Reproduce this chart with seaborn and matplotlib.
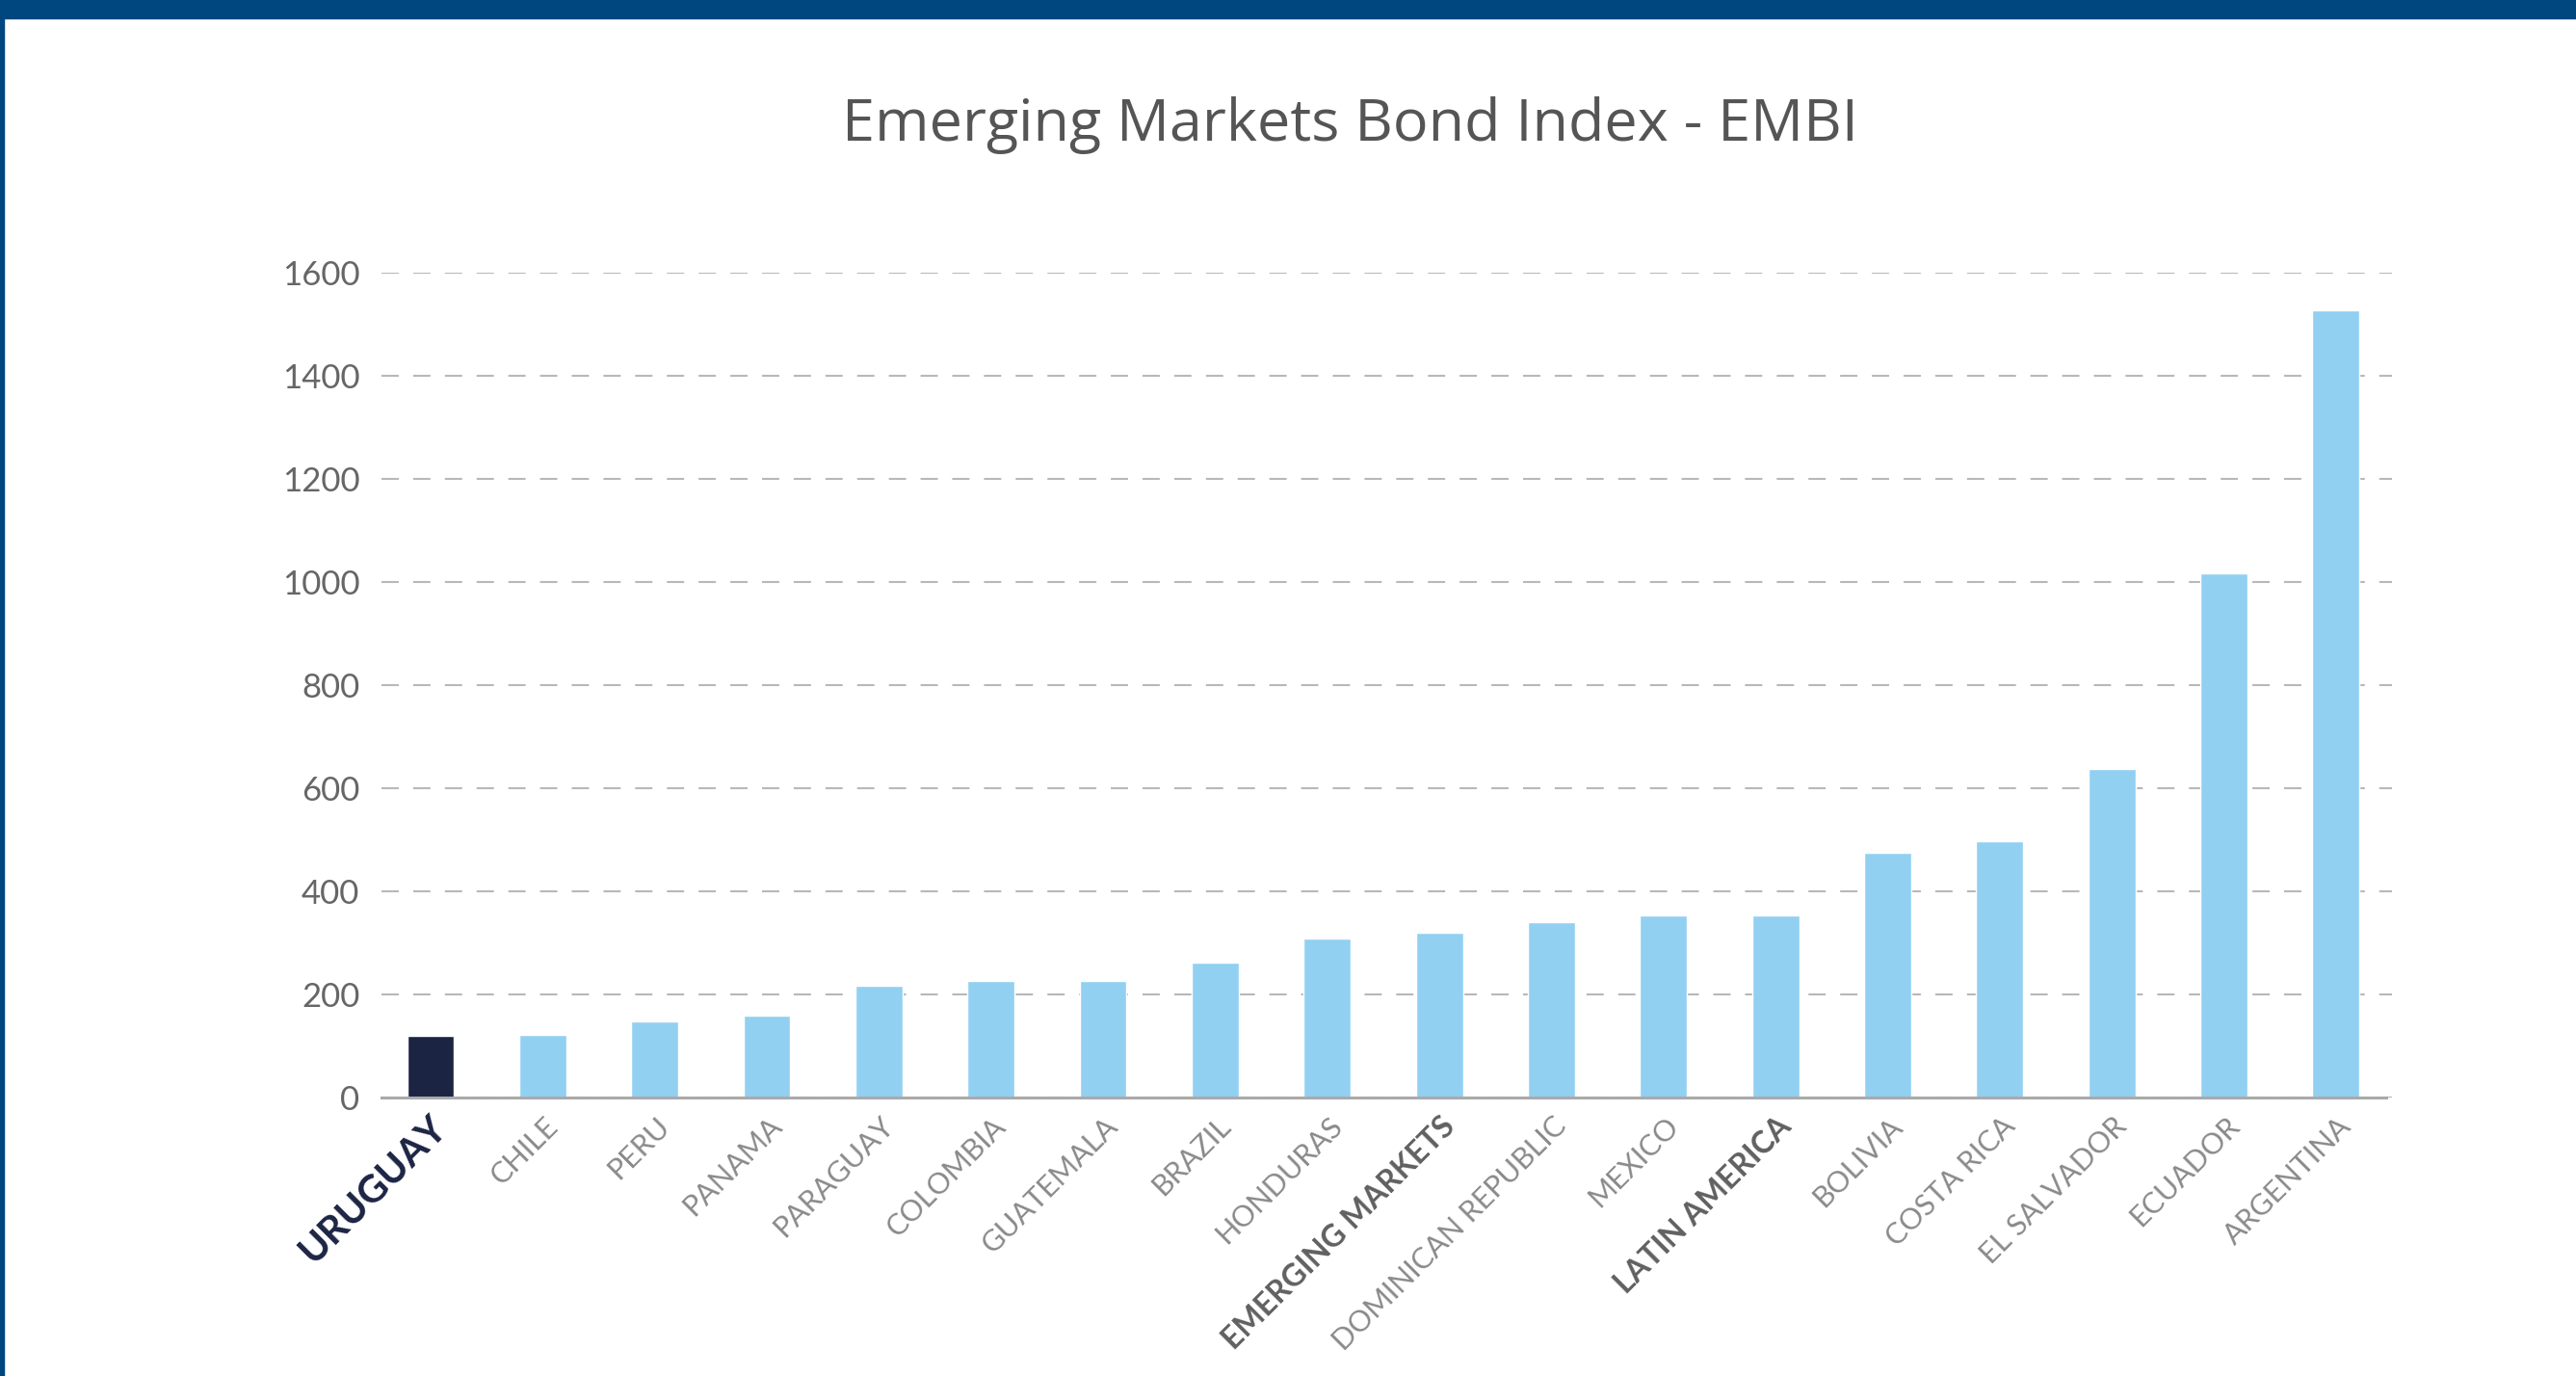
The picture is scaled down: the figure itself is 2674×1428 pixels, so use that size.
import numpy as np
import pandas as pd
import matplotlib
matplotlib.use("Agg")
import matplotlib.pyplot as plt
import seaborn as sns
from matplotlib.patches import Rectangle
from matplotlib.transforms import ScaledTranslation

# data
countries = ["URUGUAY", "CHILE", "PERU", "PANAMA", "PARAGUAY", "COLOMBIA",
             "GUATEMALA", "BRAZIL", "HONDURAS", "EMERGING MARKETS",
             "DOMINICAN REPUBLIC", "MEXICO", "LATIN AMERICA", "BOLIVIA",
             "COSTA RICA", "EL SALVADOR", "ECUADOR", "ARGENTINA"]
embi = [120, 121, 147, 159, 217, 226, 226, 261, 309, 319,
        341, 354, 354, 475, 497, 637, 1017, 1527]
y_ticks = [0, 200, 400, 600, 800, 1000, 1200, 1400, 1600]
highlight = "URUGUAY"
bold_groups = ["EMERGING MARKETS", "LATIN AMERICA"]

navy = "#1C2444"
light_blue = "#92D0F2"
frame_blue = "#00467F"

sns.set_theme(style="white")
plt.rcParams["font.family"] = ["Lato", "DejaVu Sans"]

df = pd.DataFrame({"country": countries, "embi": embi})
palette = {c: (navy if c == highlight else light_blue) for c in countries}

fig = plt.figure(figsize=(26.74, 14.28), dpi=100)
ax = fig.add_axes([0.148, 0.2024, 0.9286 - 0.148, 0.8018 - 0.2024])

sns.barplot(data=df, x="country", y="embi", hue="country", palette=palette,
            legend=False, width=0.42, saturation=1, ax=ax)

ax.set_ylim(0, 1600)
ax.set_xlim(-0.44, 17.5)
ax.set_yticks(y_ticks)
ax.set_yticklabels([str(t) for t in y_ticks])
ax.set_xlabel("")
ax.set_ylabel("")

ax.set_axisbelow(True)
ax.yaxis.grid(True, color="#B8B8B8", linewidth=1.5, linestyle=(0, (8.6, 7.2)))
ax.xaxis.grid(False)

for s in ["left", "right", "top"]:
    ax.spines[s].set_visible(False)
ax.spines["bottom"].set_color("#AAAAAA")
ax.spines["bottom"].set_linewidth(2.2)
ax.spines["bottom"].set_bounds(-0.44, 17.45)

ax.tick_params(axis="y", length=0, pad=16, labelsize=25, labelcolor="#666666")
ax.tick_params(axis="x", length=0, pad=18)

shift = ScaledTranslation(8 / 72, 0, fig.dpi_scale_trans)
for lab in ax.get_xticklabels():
    txt = lab.get_text()
    lab.set_rotation(45)
    lab.set_ha("right")
    lab.set_va("center")
    lab.set_rotation_mode("anchor")
    lab.set_transform(lab.get_transform() + shift)
    if txt == highlight:
        lab.set_fontsize(29)
        lab.set_fontweight("bold")
        lab.set_color(navy)
    elif txt in bold_groups:
        lab.set_fontsize(23)
        lab.set_fontweight("bold")
        lab.set_color("#606060")
    else:
        lab.set_fontsize(22)
        lab.set_fontweight("normal")
        lab.set_color("#8A8A8A")

fig.text(0.524, 0.909, "Emerging Markets Bond Index - EMBI", ha="center",
         va="center", fontsize=44, color="#555555", family=["Open Sans", "DejaVu Sans"])

# page frame: top bar and left edge
fig.patches.append(Rectangle((0, 1 - 19 / 1428), 1, 19 / 1428, transform=fig.transFigure,
                             color=frame_blue, zorder=10))
fig.patches.append(Rectangle((0, 0), 4 / 2674, 1, transform=fig.transFigure,
                             color=frame_blue, zorder=10))

fig.savefig("out.png", dpi=100, facecolor="white")
